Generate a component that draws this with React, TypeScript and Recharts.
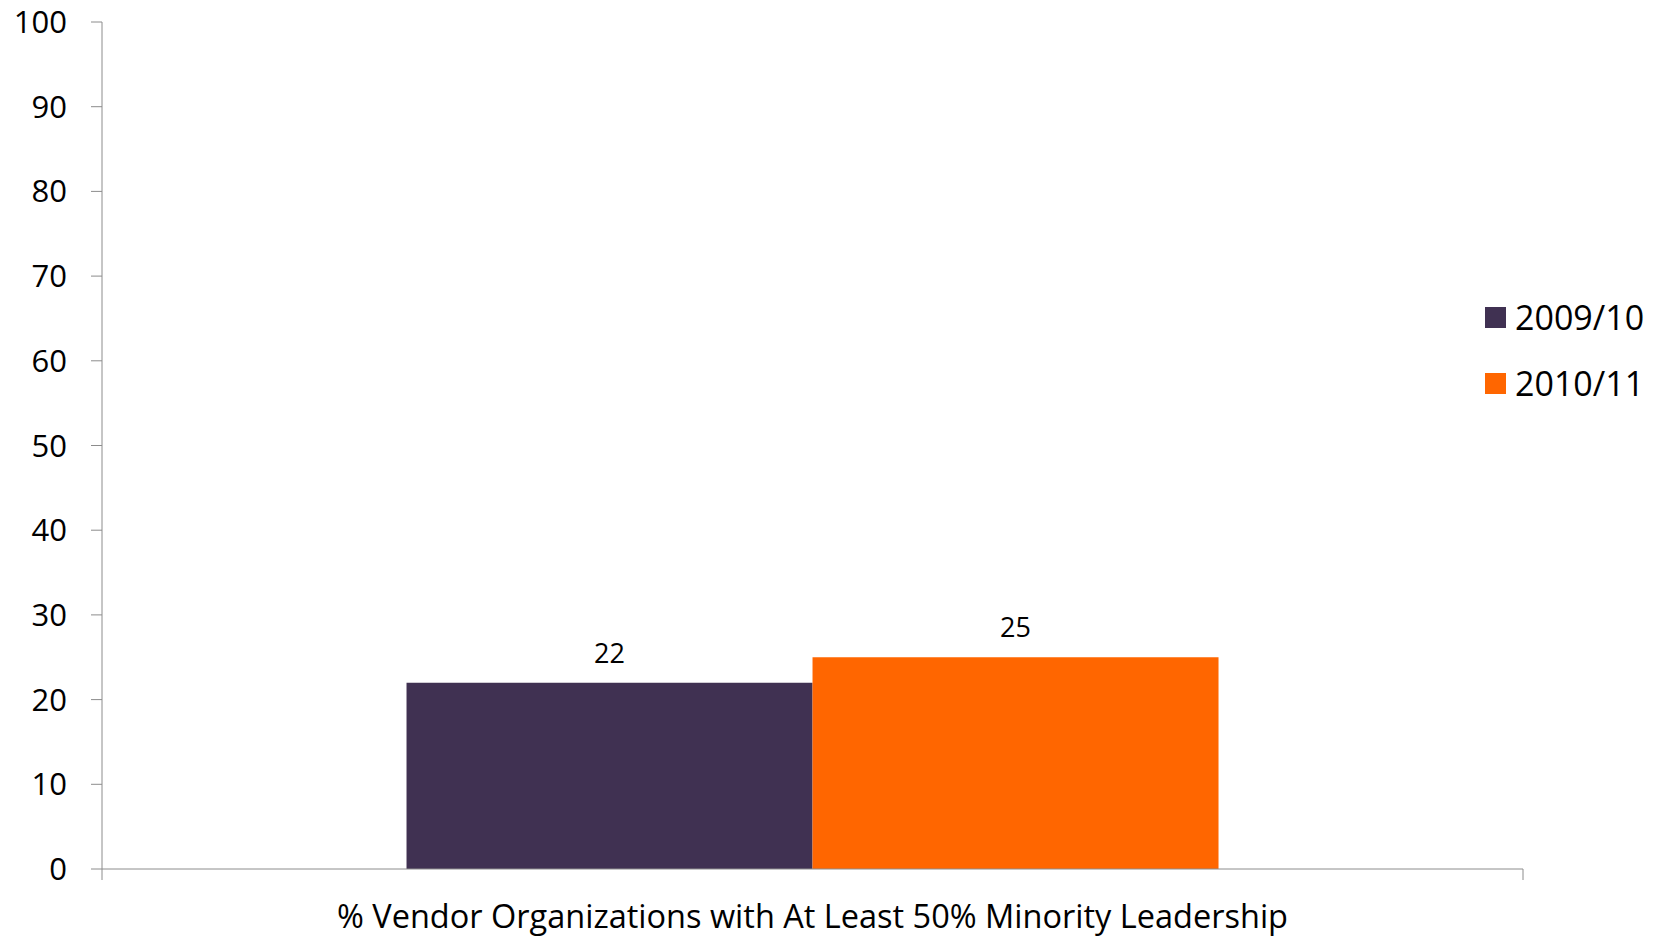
import React from "react";
import { Bar, BarChart, LabelList, Legend, XAxis, YAxis } from "recharts";

const categories = ["% Vendor Organizations with At Least 50% Minority Leadership"];
const seriesNames = ["2009/10", "2010/11"];
const values2009 = [22];
const values2010 = [25];
const yTicks = [0, 10, 20, 30, 40, 50, 60, 70, 80, 90, 100];

const PURPLE = "#403152";
const ORANGE = "#ff6600";
const AXIS = "#8c8c8c";
const FONT = "'Open Sans', sans-serif";

const data = categories.map((c, i) => ({
  category: c,
  s2009: values2009[i],
  s2010: values2010[i],
}));

function LegendBox({ payload }: { payload?: { value: string; color: string }[] }) {
  return (
    <div style={{ fontFamily: FONT }}>
      {(payload || []).map((p) => (
        <div key={p.value} style={{ display: "flex", alignItems: "center", height: 66 }}>
          <div style={{ width: 21, height: 21, background: p.color }} />
          <span style={{ marginLeft: 9, fontSize: 34, lineHeight: 1, color: "#000" }}>{p.value}</span>
        </div>
      ))}
    </div>
  );
}

// category label plus tick marks on the band edges, like Excel does
function CategoryTick(props: any) {
  const { x, y, payload } = props;
  const half = payload?.offset ?? 0;
  return (
    <g>
      <line x1={x - half} x2={x - half} y1={y} y2={y + 11} stroke={AXIS} />
      <line x1={x + half} x2={x + half} y1={y} y2={y + 11} stroke={AXIS} />
      <text x={x} y={y + 59} textAnchor="middle" fill="#000" fontSize={32.5} fontFamily={FONT}>
        {payload.value}
      </text>
    </g>
  );
}

export default function App() {
  return (
    <div style={{ position: "absolute", left: 0, top: 0, background: "#fff" }}>
      <BarChart
        width={1656}
        height={937}
        data={data}
        margin={{ top: 22, right: 133, bottom: 0, left: 0 }}
        barCategoryGap="21.43%"
        barGap={0}
      >
        <XAxis
          dataKey="category"
          tickLine={false}
          tickSize={0}
          tickMargin={0}
          stroke={AXIS}
          height={68}
          tick={<CategoryTick />}
        />
        <YAxis
          domain={[0, 100]}
          ticks={yTicks}
          width={102}
          tickSize={11}
          tickMargin={24}
          stroke={AXIS}
          interval={0}
          tick={{ fill: "#000", fontSize: 31, fontFamily: FONT }}
        />
        <Legend
          layout="vertical"
          align="center"
          verticalAlign="middle"
          wrapperStyle={{ left: 1485, top: 284, width: 171 }}
          content={<LegendBox />}
        />
        <Bar dataKey="s2009" name={seriesNames[0]} fill={PURPLE} isAnimationActive={false}>
          <LabelList dataKey="s2009" position="top" offset={20} fill="#000" fontSize={27} fontFamily={FONT} />
        </Bar>
        <Bar dataKey="s2010" name={seriesNames[1]} fill={ORANGE} isAnimationActive={false}>
          <LabelList dataKey="s2010" position="top" offset={20} fill="#000" fontSize={27} fontFamily={FONT} />
        </Bar>
      </BarChart>
    </div>
  );
}
